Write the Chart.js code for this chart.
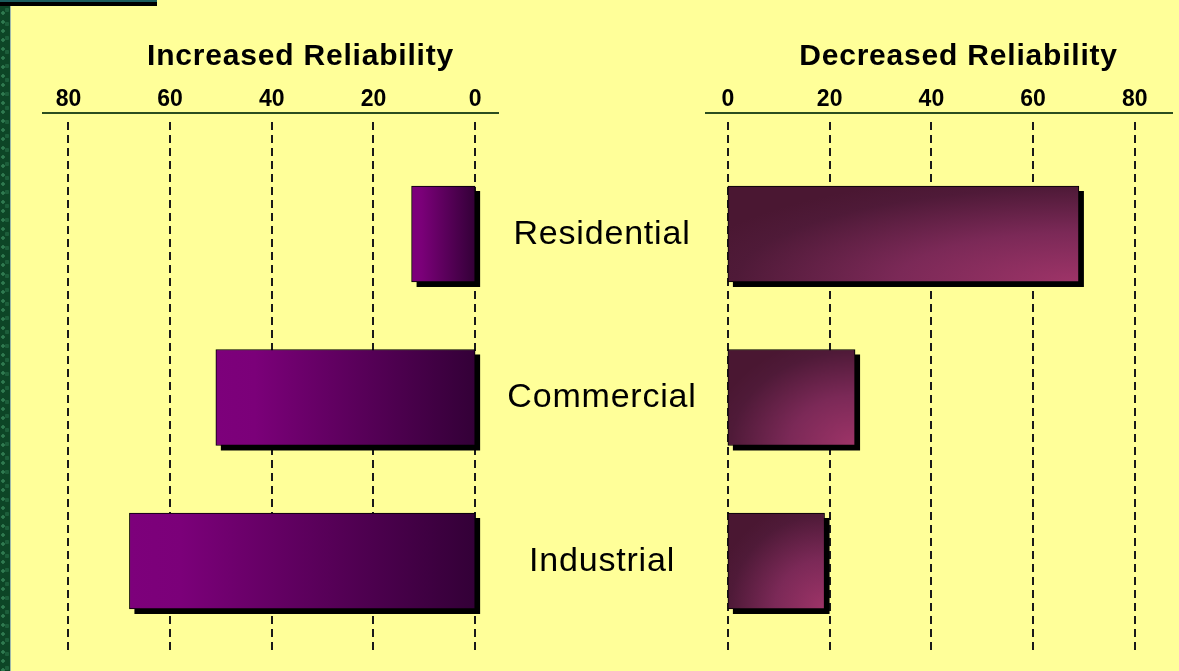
<!DOCTYPE html>
<html>
<head>
<meta charset="utf-8">
<script src="https://cdn.jsdelivr.net/npm/chart.js@4.4.0/dist/chart.umd.min.js"></script>
<style>
  html, body { margin: 0; padding: 0; }
  body {
    width: 1179px; height: 671px; position: relative; overflow: hidden;
    background: #ffff99;
  }
  #strip {
    position: absolute; left: 0; top: 0; width: 10px; height: 671px;
    background-color: #0d4526;
    background-image:
      radial-gradient(circle at 3px 4px, #2f7a50 0 1.5px, transparent 2px),
      radial-gradient(circle at 7px 10px, #1c5e3a 0 2px, transparent 2.5px);
    background-size: 10px 9px, 10px 14px;
    border-right: 1px solid #9fb8aa;
  }
  #topband {
    position: absolute; left: 0; top: 0; width: 157px; height: 4px;
    background: #000; border-top: 2px solid #1b5c5c;
  }
  #leftBox { position: absolute; left: 0; top: 0; }
  #rightBox { position: absolute; left: 705px; top: 0; }
</style>
</head>
<body>
<div id="strip"></div>
<div id="topband"></div>
<canvas id="leftBox" width="705" height="671"></canvas>
<canvas id="rightBox" width="474" height="671"></canvas>
<script>
// data
const categories = ['Residential', 'Commercial', 'Industrial'];
const increasedReliability = [12.5, 51, 68];
const decreasedReliability = [69, 25, 19];
const tickValues = [0, 20, 40, 60, 80];
const leftTitle = 'Increased Reliability';
const rightTitle = 'Decreased Reliability';

const FONT = "'Liberation Sans', Arial, sans-serif";
const BAR_H = 96;
Chart.defaults.font.family = FONT;

// purple bars: horizontal fade, light at the tip, dark at zero
function purpleFill(c) {
  const chart = c.chart;
  if (!chart.chartArea) return '#7b0079';
  const x = chart.scales.x;
  const g = chart.ctx.createLinearGradient(x.getPixelForValue(c.raw.x), 0, x.getPixelForValue(0), 0);
  g.addColorStop(0, '#7d007b');
  g.addColorStop(0.15, '#7b0079');
  g.addColorStop(1, '#330037');
  return g;
}

// plum bars: "from corner" fade, pink at the bottom right
function plumFill(c) {
  const chart = c.chart;
  if (!chart.chartArea) return '#6a2248';
  const {x, y} = chart.scales;
  const x0 = x.getPixelForValue(0);
  const w = Math.max(1, Math.round(x.getPixelForValue(c.raw.x) - x0));
  const h = BAR_H;
  const off = document.createElement('canvas');
  off.width = w; off.height = h;
  const o = off.getContext('2d');
  o.translate(w, h);
  o.scale(w, h);
  const g = o.createRadialGradient(0, 0, 0, 0, 0, 1.15);
  g.addColorStop(0, '#9e3468');
  g.addColorStop(0.45, '#7b2957');
  g.addColorStop(0.85, '#4f1a38');
  g.addColorStop(1, '#4a1732');
  o.fillStyle = g;
  o.fillRect(-1, -1, 1, 1);
  const pat = chart.ctx.createPattern(off, 'no-repeat');
  pat.setTransform(new DOMMatrix().translate(x0, y.getPixelForValue(c.raw.y) - h / 2));
  return pat;
}

// dashed grid lines, drop shadows, titles and the category names
const decor = {
  id: 'decor',
  beforeDatasetsDraw(chart, args, opts) {
    const {ctx, chartArea, scales: {x}} = chart;
    ctx.save();
    ctx.strokeStyle = '#1a1a1a';
    ctx.lineWidth = 2;
    ctx.setLineDash([8, 5]);
    x.ticks.forEach(t => {
      const px = Math.round(x.getPixelForValue(t.value));
      ctx.beginPath();
      ctx.moveTo(px, chartArea.top + 9);
      ctx.lineTo(px, chartArea.bottom);
      ctx.stroke();
    });
    ctx.setLineDash([]);
    ctx.fillStyle = '#000';
    chart.getDatasetMeta(0).data.forEach(bar => {
      const p = bar.getProps(['x', 'y', 'base', 'height'], true);
      ctx.fillRect(Math.min(p.x, p.base) + 5, p.y - p.height / 2 + 5, Math.abs(p.x - p.base), p.height);
    });
    ctx.restore();
  },
  afterDraw(chart, args, opts) {
    const {ctx, chartArea, scales: {y}} = chart;
    ctx.save();
    ctx.fillStyle = '#000';
    ctx.textAlign = 'center';
    ctx.textBaseline = 'alphabetic';
    ctx.font = 'bold 30px ' + FONT;
    ctx.letterSpacing = '0.8px';
    ctx.fillText(opts.title, (chartArea.left + chartArea.right) / 2 + opts.titleShift, 65);
    if (opts.labels) {
      ctx.font = '34px ' + FONT;
      ctx.letterSpacing = '0.8px';
      opts.labels.forEach((lab, i) => {
        ctx.fillText(lab, chartArea.right + 104, y.getPixelForValue(i) + 10);
      });
    }
    ctx.restore();
  }
};

function makeChart(id, values, reverse, xMax, fill, padding, decorOpts) {
  return new Chart(document.getElementById(id), {
    type: 'bar',
    data: {
      datasets: [{
        data: values.map((v, i) => ({x: v, y: i})),
        backgroundColor: fill,
        borderColor: '#000',
        borderWidth: 1,
        borderSkipped: false,
        barThickness: BAR_H
      }]
    },
    options: {
      indexAxis: 'y',
      responsive: false,
      animation: false,
      events: [],
      layout: {padding: padding},
      scales: {
        x: {
          type: 'linear',
          position: 'top',
          reverse: reverse,
          min: -4.5,
          max: xMax,
          afterBuildTicks: s => { s.ticks = tickValues.map(v => ({value: v})); },
          afterFit: s => { s.height = 113; },
          grid: {display: false, drawTicks: false},
          border: {display: true, color: '#2b4d1f', width: 2},
          ticks: {
            color: '#000',
            padding: 0,
            maxRotation: 0,
            autoSkip: false,
            font: {size: 23, weight: 'bold'}
          }
        },
        y: {
          type: 'linear',
          display: false,
          offset: false,
          grace: 0,
          reverse: true,
          min: -0.74,
          max: 2.575
        }
      },
      plugins: {
        legend: {display: false},
        tooltip: {enabled: false},
        decor: decorOpts
      }
    },
    plugins: [decor]
  });
}

makeChart('leftBox', increasedReliability, true, 85, purpleFill,
  {left: 43, right: 207, top: 0, bottom: 16},
  {title: leftTitle, titleShift: 30, labels: categories});

makeChart('rightBox', decreasedReliability, false, 87.3, plumFill,
  {left: 0, right: 7, top: 0, bottom: 16},
  {title: rightTitle, titleShift: 20});
</script>
</body>
</html>
